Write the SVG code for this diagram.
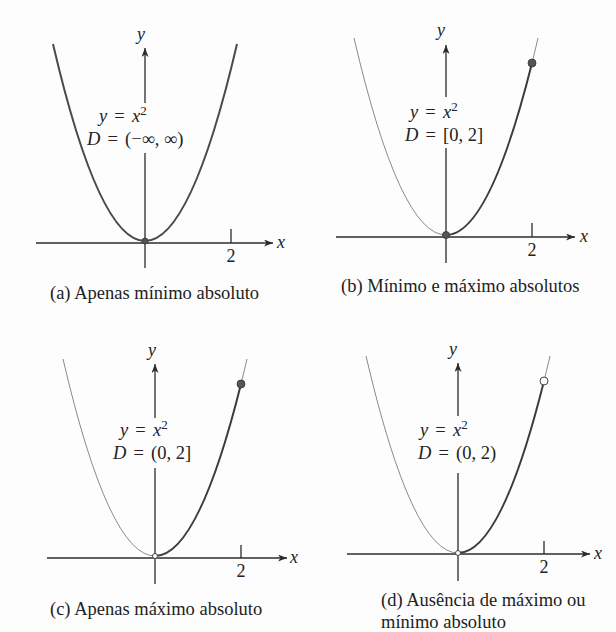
<svg xmlns="http://www.w3.org/2000/svg" width="616" height="632" viewBox="0 0 616 632">
<style>
.ax{stroke:#2b2b2b;stroke-width:1.3;fill:none}
.pa{stroke:#4a4a4a;stroke-width:2;fill:none}
.lt{stroke:#8a8a8a;stroke-width:1;fill:none}
.dk{stroke:#3c3c3c;stroke-width:2;fill:none}
.t{font-family:"Liberation Serif","Times New Roman",serif;fill:#222}
.eq{font-size:18.5px}
.ws{word-spacing:2.5px}
.cap{font-size:18.5px}
.lbl{font-size:18px;font-style:italic}
.num{font-size:18px}
.i{font-style:italic}
.dot{fill:#555;stroke:#333;stroke-width:0.8}
.odot{fill:#fff;stroke:#444;stroke-width:1}
</style>
<defs>
<marker id="arr" markerUnits="userSpaceOnUse" markerWidth="10" markerHeight="8" refX="9" refY="3.5" orient="auto">
<path d="M0,0 L9,3.5 L0,7 L2.5,3.5 Z" fill="#2b2b2b"/>
</marker>
</defs>
<rect width="616" height="632" fill="#fdfdfd"/>

<g id="panel-a">
<path class="ax" d="M36,243 H273" marker-end="url(#arr)"/>
<path class="ax" d="M145,268 V153"/>
<path class="ax" d="M145,103 V48" marker-end="url(#arr)"/>
<path class="ax" d="M231,229 V243"/>
<path class="pa" d="M53,44 Q145,438 237,44"/>
<circle class="dot" cx="145" cy="241" r="3"/>
<text class="t lbl" x="141" y="40" text-anchor="middle">y</text>
<text class="t lbl" x="277" y="248">x</text>
<text class="t num" x="231" y="262" text-anchor="middle">2</text>
<text class="t eq" x="99" y="122"><tspan class="i">y</tspan><tspan class="ws"> = </tspan><tspan class="i">x</tspan><tspan dy="-7" font-size="13">2</tspan></text>
<text class="t eq" x="87" y="145"><tspan class="i">D</tspan><tspan class="ws"> = </tspan>(−∞, ∞)</text>
<text class="t cap" x="50" y="299">(a) Apenas mínimo absoluto</text>
</g>

<g id="panel-b">
<path class="ax" d="M336,237 H575" marker-end="url(#arr)"/>
<path class="ax" d="M446,263 V148"/>
<path class="ax" d="M446,97 V45" marker-end="url(#arr)"/>
<path class="ax" d="M532,223 V237"/>
<path class="lt" d="M354,38 Q400,235 446,235"/>
<path class="dk" d="M446,235 Q489,235 532,63"/>
<path class="lt" d="M532,63 Q535,51 538,38"/>
<circle class="dot" cx="446" cy="235" r="3.5"/>
<circle class="dot" cx="532" cy="63" r="4"/>
<text class="t lbl" x="441" y="36" text-anchor="middle">y</text>
<text class="t lbl" x="580" y="242">x</text>
<text class="t num" x="532" y="256" text-anchor="middle">2</text>
<text class="t eq" x="410" y="118"><tspan class="i">y</tspan><tspan class="ws"> = </tspan><tspan class="i">x</tspan><tspan dy="-7" font-size="13">2</tspan></text>
<text class="t eq" x="405" y="141"><tspan class="i">D</tspan><tspan class="ws"> = </tspan>[0, 2]</text>
<text class="t cap" x="341" y="292">(b) Mínimo e máximo absolutos</text>
</g>

<g id="panel-c">
<path class="ax" d="M47,558 H287" marker-end="url(#arr)"/>
<path class="ax" d="M155,584 V468"/>
<path class="ax" d="M155,418 V364" marker-end="url(#arr)"/>
<path class="ax" d="M241,545 V558"/>
<path class="lt" d="M63,359 Q109,556 155,556"/>
<path class="dk" d="M155,556 Q198,556 241,384"/>
<path class="lt" d="M241,384 Q244,372 247,359"/>
<circle class="odot" cx="155" cy="556" r="2.5"/>
<circle class="dot" cx="241" cy="384" r="4"/>
<text class="t lbl" x="152" y="356" text-anchor="middle">y</text>
<text class="t lbl" x="290" y="563">x</text>
<text class="t num" x="241" y="577" text-anchor="middle">2</text>
<text class="t eq" x="120" y="436"><tspan class="i">y</tspan><tspan class="ws"> = </tspan><tspan class="i">x</tspan><tspan dy="-7" font-size="13">2</tspan></text>
<text class="t eq" x="113" y="459"><tspan class="i">D</tspan><tspan class="ws"> = </tspan>(0, 2]</text>
<text class="t cap" x="50" y="615">(c) Apenas máximo absoluto</text>
</g>

<g id="panel-d">
<path class="ax" d="M347,554 H590" marker-end="url(#arr)"/>
<path class="ax" d="M458,581 V473"/>
<path class="ax" d="M458,416 V363" marker-end="url(#arr)"/>
<path class="ax" d="M544,541 V554"/>
<path class="lt" d="M366,356 Q412,553 458,553"/>
<path class="dk" d="M458,553 Q501,553 544,381"/>
<path class="lt" d="M544,381 Q547,369 550,356"/>
<circle class="odot" cx="458" cy="553" r="2.5"/>
<circle class="odot" cx="544" cy="381" r="4"/>
<text class="t lbl" x="453" y="355" text-anchor="middle">y</text>
<text class="t lbl" x="594" y="559">x</text>
<text class="t num" x="544" y="573" text-anchor="middle">2</text>
<text class="t eq" x="420" y="436"><tspan class="i">y</tspan><tspan class="ws"> = </tspan><tspan class="i">x</tspan><tspan dy="-7" font-size="13">2</tspan></text>
<text class="t eq" x="418" y="459"><tspan class="i">D</tspan><tspan class="ws"> = </tspan>(0, 2)</text>
<text class="t cap" x="381" y="606">(d) Ausência de máximo ou</text>
<text class="t cap" x="381" y="628">mínimo absoluto</text>
</g>
</svg>
